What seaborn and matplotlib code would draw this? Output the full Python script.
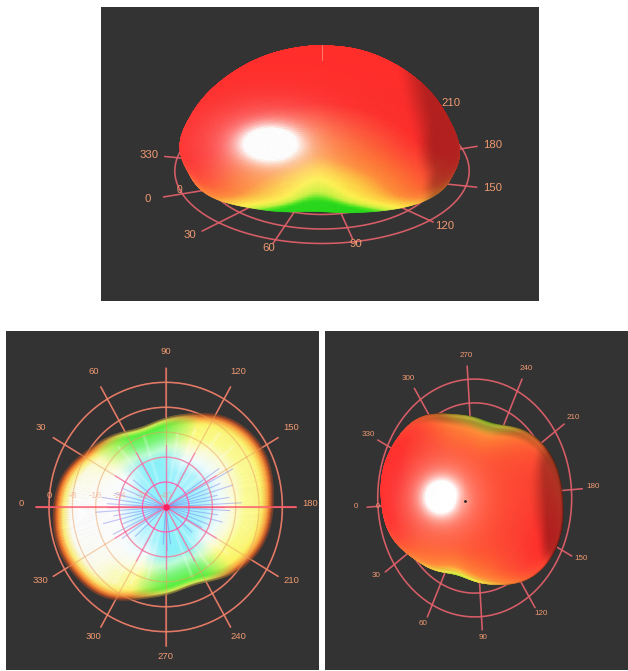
import numpy as np
import seaborn as sns
import matplotlib
matplotlib.use("Agg")
import matplotlib.pyplot as plt
from matplotlib.collections import PolyCollection
from matplotlib.colors import LinearSegmentedColormap as LSC

# ---- data ----
azimuth_ticks = [0, 30, 60, 90, 120, 150, 180, 210, 240, 270, 300, 330]
ring_radii = [8, 16, 24, 32, 40]
ring_db_labels = ["-32", "-24", "-16", "-8", "0"]
centre_db_label = "-40"
# spoke lengths and small perspective turn of the spokes in the top view
top_spoke_len = [45.4, 46.5, 42, 38.5, 41.3, 43, 44.3, 47.5, 44.5, 44.5, 44.5, 43.5]
top_spoke_turn = [3.4, .5, -3.4, -2.5, 2, 3, 2.9, 3, 3, 3, 3, 4.4]
# horizontal extent of the pattern every 15 degrees of azimuth
pattern_radius = [38.5, 37, 33.5, 30.5, 28, 27, 28.6, 31, 34.3, 37, 38.2, 37.8,
                  36.9, 36, 34, 31, 27.8, 26.9, 28.2, 30.5, 34.4, 37.2, 38.6, 39.2]
# whiteness of the underside every 15 degrees
underside_white = [1, .9, .7, .3, .1, 0, 0, .1, .2, .25, .3, .3,
                   .3, .25, .15, .05, 0, 0, .05, .2, .4, .75, .95, 1]
dome_height = 33.2
dome_lift = 1.5
profile_rho = [0, .17, .34, .50, .64, .77, .87, .94, .985, .93]
profile_z = [1.0, .985, .94, .87, .77, .64, .50, .34, .17, 0]
profile_azvar = [0, .1, .25, .45, .65, .8, .92, 1, 1, 1]
panel1_labels = [0, 30, 60, 90, 120, 150, 180, 210, 330]
blue_ray_az = [3, 8, 14, 22, 38, 146, 152, 158, 163, 168, 172, 177, 183, 188, 194, 201, 208,
               222, 262, 268, 274, 318, 326, 334, 340, 346, 351, 356]
blue_ray_len = [20, 22, 18, 16, 14, 22, 26, 20, 24, 18, 22, 26, 22, 18, 20, 16, 14,
                12, 12, 14, 12, 14, 18, 20, 16, 22, 18, 24]
white_ray_az = [20, 50, 72, 100, 112, 128, 140, 215, 232, 248, 285, 296, 306, 322]
white_ray_len = [28, 25, 24, 24, 27, 30, 30, 26, 24, 24, 24, 27, 30, 30]

BG = "#333333"
RING = "#e0606a"
LABEL = "#f09a72"

sns.set_style("dark")
plt.rcParams["font.family"] = ["Liberation Sans", "DejaVu Sans"]

W, H = 628, 671
fig = plt.figure(figsize=(W / 100, H / 100), dpi=100, facecolor="white")


def fourier_up(vals, n):
    spec = np.fft.rfft(vals)
    out = np.zeros(n // 2 + 1, dtype=complex)
    out[:len(spec)] = spec
    out[len(spec) - 1] *= 0.5
    return np.fft.irfft(out, n) * n / len(vals)


def catmull(vals, n):
    p = np.r_[2 * vals[0] - vals[1], vals, 2 * vals[-1] - vals[-2]]
    t = np.linspace(0, len(vals) - 1, n)
    i = np.minimum(t.astype(int), len(vals) - 2)
    f = t - i
    a, b, c, d = p[i], p[i + 1], p[i + 2], p[i + 3]
    return .5 * (2 * b + (c - a) * f + (2 * a - 5 * b + 4 * c - d) * f ** 2 + (3 * b - a - 3 * c + d) * f ** 3)


def basis(elev, azim):
    e, a = np.radians(elev), np.radians(azim)
    right = np.array([-np.sin(a), np.cos(a), 0])
    up = np.array([-np.sin(e) * np.cos(a), -np.sin(e) * np.sin(a), np.cos(e)])
    view = np.array([np.cos(e) * np.cos(a), np.cos(e) * np.sin(a), np.sin(e)])
    return right, up, view


def panel(x0, y0, x1, y1, cx, cy, sx, sy):
    ax = fig.add_axes([x0 / W, 1 - y1 / H, (x1 - x0) / W, (y1 - y0) / H])
    ax.set_facecolor(BG)
    ax.set_xlim((x0 - cx) / sx, (x1 - cx) / sx)
    ax.set_ylim((cy - y1) / sy, (cy - y0) / sy)
    ax.set_xticks([]); ax.set_yticks([])
    for s in ax.spines.values():
        s.set_visible(False)
    return ax


def draw_grid(ax, b, tips, turns=None, color=RING, lw=1.15, alpha=0.95, zorder=1):
    right, up, _ = b
    turns = turns if turns is not None else [0] * len(tips)
    th = np.linspace(0, 2 * np.pi, 241)
    for r in ring_radii:
        X = np.c_[r * np.cos(th), r * np.sin(th), 0 * th]
        sns.lineplot(x=X @ right, y=X @ up, ax=ax, sort=False, estimator=None, color=color,
                     lw=lw, alpha=alpha, zorder=zorder, legend=False)
    for a, tip, dt in zip(azimuth_ticks, tips, turns):
        t = np.radians(a + dt)
        X = np.array([[0, 0, 0], [tip * np.cos(t), tip * np.sin(t), 0]])
        sns.lineplot(x=X @ right, y=X @ up, ax=ax, sort=False, estimator=None, color=color,
                     lw=lw, alpha=alpha, zorder=zorder, legend=False)


def draw_labels(ax, b, az_list, tips, fu, fv, size, dv=0.0, turns=None):
    right, up, _ = b
    turns = turns if turns is not None else [0] * len(tips)
    for a in az_list:
        k = azimuth_ticks.index(a)
        t = np.radians(a + turns[k])
        X = np.array([tips[k] * np.cos(t), tips[k] * np.sin(t), 0])
        ax.text(X @ right * fu, X @ up * fv + dv, str(a), color=LABEL, fontsize=size,
                ha="center", va="center", zorder=6)


# ---- shared surface ----
NA, NT = 288, 90
az_f = np.linspace(0, 2 * np.pi, NA, endpoint=False)
R_f = fourier_up(np.array(pattern_radius), NA)
rho_f = catmull(np.array(profile_rho), NT)
z_f = catmull(np.array(profile_z), NT) * dome_height + dome_lift
var_f = catmull(np.array(profile_azvar), NT)
Az, T = np.meshgrid(np.r_[az_f, 2 * np.pi], np.arange(NT), indexing="ij")
Rg = np.r_[R_f, R_f[:1]][:, None]
Rmean = np.mean(pattern_radius)
Reff = Rmean + (Rg - Rmean) * var_f[None, :]
Px = Reff * rho_f[None, :] * np.cos(Az)
Py = Reff * rho_f[None, :] * np.sin(Az)
Pz = np.tile(z_f, (NA + 1, 1))
P = np.stack([Px, Py, Pz], -1)
dA = np.gradient(P, axis=0)
dT = np.gradient(P, axis=1)
N = np.cross(dA, dT)
N /= np.maximum(np.linalg.norm(N, axis=-1, keepdims=True), 1e-9)
N[np.sum(N * (P - np.array([0, 0, 5.0])), axis=-1) < 0] *= -1
N[:, 0] = [0, 0, 1]

gain_map = LSC.from_list("gain", [
    (0.0, (.15, .85, .10)), (.06, (.30, .90, .12)), (.14, (.80, .95, .25)), (.24, (1, .95, .30)),
    (.38, (1, .78, .25)), (.52, (1, .55, .22)), (.70, (1, .42, .20)), (.88, (1, .28, .20)), (1.0, (1, .18, .17))])


def dome(ax, b, blob, dark_lo, dark_hi, dark_amt, limb=0.0, top_boost=0.0, shear=(0, 0), shift=(0, 0)):
    right, up, view = b
    mag = np.linalg.norm(P, axis=-1)
    zfrac = np.clip(P[..., 2] / dome_height, 0, 1)
    c = (mag - 24) / 13 - .38 * (1 - zfrac) ** 2.5 + top_boost * zfrac ** 2
    rgb = gain_map(np.clip(c, 0, 1))[..., :3]
    nu, nv, nd = N @ right, N @ up, N @ view
    u = P @ right + shear[0] * P[..., 2] + shift[0]
    v = P @ up + shear[1] * P[..., 2] + shift[1]
    d = P @ view
    e = ((u - blob[0]) / blob[2]) ** 2 + ((v - blob[1]) / blob[3]) ** 2
    spec = np.clip(1.6 * np.exp(-e) + .45 * np.exp(-e / 5), 0, 1)[..., None]
    f = np.clip((nu - dark_lo) / (dark_hi - dark_lo), 0, 1)
    f = f * f * (3 - 2 * f)
    rgb = rgb * (1 - dark_amt * f)[..., None]
    lw_ = np.clip((.38 - nd) / .38, 0, 1) * (1 - np.clip(-nu * 1.6, 0, 1))
    rgb = rgb * (1 - limb * lw_)[..., None]
    rgb = rgb * (1 - spec) + spec
    mask = nd[:-1, :-1] > -0.02
    idx = np.argwhere(mask)
    i, j = idx[:, 0], idx[:, 1]
    quads = np.stack([np.c_[u[i, j], v[i, j]], np.c_[u[i + 1, j], v[i + 1, j]],
                      np.c_[u[i + 1, j + 1], v[i + 1, j + 1]], np.c_[u[i, j + 1], v[i, j + 1]]], 1)
    cols = rgb[i, j]
    order = np.argsort(d[i, j])
    ax.add_collection(PolyCollection(quads[order], facecolors=cols[order], edgecolors=cols[order],
                                     linewidths=0.5, zorder=3))


tips_all = [44.5] * len(azimuth_ticks)

# ---- top panel ----
ax1 = panel(101, 7, 539, 301, 322, 171, 3.68, 3.68)
b1 = basis(29.5, 75)
draw_grid(ax1, b1, top_spoke_len, top_spoke_turn)
dome(ax1, b1, (-14.1, 7.6, 7.4, 4.4), .50, .72, .30, top_boost=.28)
draw_labels(ax1, b1, panel1_labels, top_spoke_len, 1.10, 1.07, 8.2, turns=top_spoke_turn)
pin = np.array([[0, 0, dome_height + dome_lift], [0, 0, (dome_height + dome_lift) * 1.13]])
sns.lineplot(x=pin @ b1[0], y=pin @ b1[1], ax=ax1, sort=False, estimator=None, color="#ffb0a0",
             lw=0.7, alpha=.6, zorder=4, legend=False)
p0 = np.array([40, 0, 0])
ax1.text(p0 @ b1[0], p0 @ b1[1], "0", color=LABEL, fontsize=7.5, ha="center", va="center", zorder=6)

# ---- lower-left panel: underside ----
ax2 = panel(6, 331, 319, 670, 165.7, 507, 2.917, 3.117)
b2 = basis(-90, 90)
cy = (.55, .95, 1)
green_map = LSC.from_list("g", [(0, cy), (.55, (.55, .95, .98)), (.66, (.75, 1, .85)), (.78, (.50, .97, .50)),
                                (.92, (.35, .95, .25)), (.97, (.85, .95, .35)), (.99, (.55, .5, .22)), (1, (.28, .26, .2))])
yellow_map = LSC.from_list("y", [(0, cy), (.36, (.62, .95, 1)), (.50, (.93, 1, 1)), (.62, (1, 1, .8)),
                                 (.74, (1, 1, .42)), (.88, (1, .97, .35)), (.94, (1, .65, .25)),
                                 (.98, (.72, .3, .15)), (1, (.28, .22, .2))])
white_map = LSC.from_list("w", [(0, (.6, .95, 1)), (.25, (.75, .97, 1)), (.42, (1, 1, 1)), (.84, (1, 1, 1)),
                                (.91, (1, .95, .5)), (.955, (1, .55, .2)), (.98, (.72, .3, .15)), (1, (.28, .22, .2))])
s_f = np.linspace(0, 1, 110)
Wf = np.clip(fourier_up(np.array(underside_white, float), NA), 0, 1)
Low = np.clip((32.5 - R_f) / 4.5, 0, 1)
A, S = np.meshgrid(np.r_[az_f, 2 * np.pi], s_f, indexing="ij")
Rw = np.r_[R_f, R_f[:1]][:, None]
mixA = np.r_[Wf, Wf[:1]][:, None, None]
mixG = np.r_[Low, Low[:1]][:, None, None]
cg, cyy, cw = green_map(S)[..., :3], yellow_map(S)[..., :3], white_map(S)[..., :3]
col = cyy * (1 - mixA) + cw * mixA
col = col * (1 - mixG) + cg * mixG
X = S * Rw * np.cos(A)
Y = S * Rw * np.sin(A)
U = X * b2[0][0] + Y * b2[0][1]
V = X * b2[1][0] + Y * b2[1][1]
i, j = np.meshgrid(np.arange(NA), np.arange(len(s_f) - 1), indexing="ij")
i, j = i.ravel(), j.ravel()
q = np.stack([np.c_[U[i, j], V[i, j]], np.c_[U[i + 1, j], V[i + 1, j]],
              np.c_[U[i + 1, j + 1], V[i + 1, j + 1]], np.c_[U[i, j + 1], V[i, j + 1]]], 1)
cq = col[i, j]
draw_grid(ax2, b2, tips_all, zorder=1)
ax2.add_collection(PolyCollection(q, facecolors=cq, edgecolors=cq, linewidths=0.4, zorder=2))
for az_v, ln in zip(white_ray_az, white_ray_len):
    t = np.radians(az_v)
    sns.lineplot(x=[-8 * np.cos(t), -ln * np.cos(t)], y=[8 * np.sin(t), ln * np.sin(t)], ax=ax2, sort=False,
                 estimator=None, color="white", lw=2.2, alpha=.22, zorder=2.5, legend=False)
for az_v, ln in zip(blue_ray_az, blue_ray_len):
    t = np.radians(az_v)
    sns.lineplot(x=[0, -ln * np.cos(t)], y=[0, ln * np.sin(t)], ax=ax2, sort=False, estimator=None,
                 color="#6a6cf0", lw=0.8, alpha=.4, zorder=2.6, legend=False)
draw_grid(ax2, b2, tips_all, color="#e8a060", lw=0.9, alpha=.5, zorder=3)
th = np.linspace(0, 2 * np.pi, 181)
for r, c in zip(ring_radii[:2], ["#ff50c8", "#f080b8"]):
    sns.lineplot(x=r * np.cos(th), y=r * np.sin(th), ax=ax2, sort=False, estimator=None, color=c,
                 lw=0.9, alpha=.8, zorder=3.2, legend=False)
for a in azimuth_ticks:
    t = np.radians(a)
    sns.lineplot(x=[0, -20 * np.cos(t)], y=[0, 20 * np.sin(t)], ax=ax2, sort=False, estimator=None,
                 color="#ff50b8", lw=1.0, alpha=.55, zorder=3.2, legend=False)
sns.lineplot(x=[-44.5, 44.5], y=[0, 0], ax=ax2, sort=False, estimator=None, color="#ff5070",
             lw=1.1, alpha=.85, zorder=3.3, legend=False)
ax2.scatter([0], [0], s=14, color="#ff2060", zorder=4)
draw_labels(ax2, b2, azimuth_ticks, tips_all, 1.115, 1.10, 6.8, dv=1.0)
for r, lab in zip(ring_radii + [0], ring_db_labels + [centre_db_label]):
    ax2.text(r * b2[0][0], 3.6, lab, color=LABEL, fontsize=6.8, alpha=.55 if r < 40 else 1,
             ha="center", va="center", zorder=5)

# ---- lower-right panel: from above ----
ax3 = panel(325, 331, 628, 670, 474.7, 498, 2.425, 2.98)
b3 = basis(86, 86)
draw_grid(ax3, b3, tips_all)
shear3 = (-.14, -.10)
dome(ax3, b3, (-13.5, .3, 6.5, 5.3), .62, .80, .30, limb=.62, top_boost=.03, shear=shear3, shift=(.7, 0))
draw_labels(ax3, b3, azimuth_ticks, tips_all, 1.10, 1.07, 5.8, dv=.6)
apex = dome_height + dome_lift
ax3.scatter([b3[0][2] * apex + shear3[0] * apex + .7], [b3[1][2] * apex + shear3[1] * apex],
            s=1.0, color="#222222", zorder=5)
p0 = np.array([40, 0, 0])
ax3.text(p0 @ b3[0], p0 @ b3[1], "0", color=LABEL, fontsize=5.2, ha="center", va="center", zorder=6)

fig.savefig("out.png", dpi=100, facecolor="white")
